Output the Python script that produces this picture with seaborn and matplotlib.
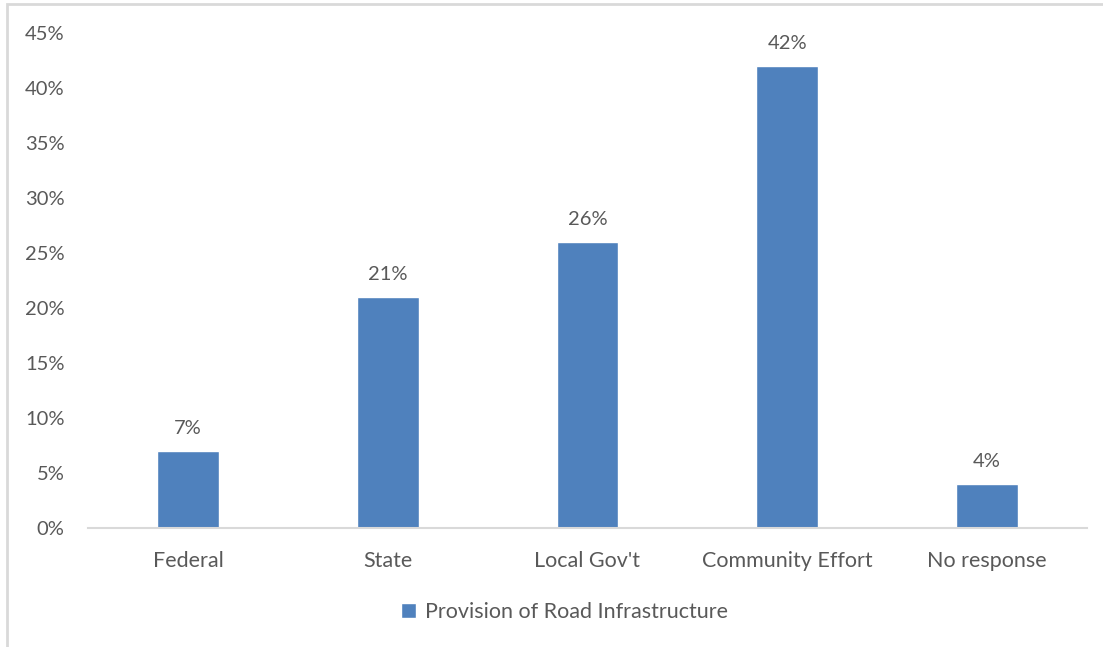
import matplotlib
matplotlib.use("Agg")
import matplotlib.pyplot as plt
import seaborn as sns
import pandas as pd
from matplotlib.patches import Rectangle
from matplotlib.ticker import FuncFormatter, MultipleLocator

categories = ["Federal", "State", "Local Gov't", "Community Effort", "No response"]
shares = [7, 21, 26, 42, 4]
series_name = "Provision of Road Infrastructure"

sns.set_theme(style="white")
plt.rcParams["font.family"] = ["Lato", "DejaVu Sans"]

TEXT = "#595959"
BAR = "#4F81BD"

df = pd.DataFrame({"category": categories, "share": shares})

fig = plt.figure(figsize=(11.03, 6.47), dpi=100)
ax = fig.add_axes([88 / 1103, 1 - 528 / 647, 999 / 1103, 495 / 647])

sns.barplot(data=df, x="category", y="share", color=BAR, width=0.31,
            saturation=1, label=series_name, ax=ax)

ax.set_ylim(0, 45)
ax.yaxis.set_major_locator(MultipleLocator(5))
ax.yaxis.set_major_formatter(FuncFormatter(lambda v, _: f"{v:.0f}%"))
ax.set_xlim(-0.5, len(categories) - 0.5)
ax.set_xlabel("")
ax.set_ylabel("")

for side in ["top", "right", "left"]:
    ax.spines[side].set_visible(False)
ax.spines["bottom"].set_color("#D9D9D9")
ax.spines["bottom"].set_linewidth(1.5)

ax.tick_params(axis="both", length=0, colors=TEXT)
ax.tick_params(axis="x", pad=16.5, labelsize=15.5)
ax.tick_params(axis="y", pad=17, labelsize=14.5)

for container in ax.containers:
    ax.bar_label(container, labels=[f"{v}%" for v in shares],
                 padding=10, fontsize=14.5, color=TEXT)

leg = fig.legend(handles=ax.patches[:1], labels=[series_name], loc="center",
                 bbox_to_anchor=(0.512, 1 - 612 / 647), frameon=False,
                 fontsize=15.5, handlelength=0.7, handleheight=0.7,
                 handletextpad=0.4)
for t in leg.get_texts():
    t.set_color(TEXT)
if ax.get_legend() is not None:
    ax.get_legend().remove()

# light frame around the chart area
fig.patches.append(Rectangle((7 / 1103, -0.05), 1.1, 643 / 647 + 0.05,
                             transform=fig.transFigure, fill=False,
                             edgecolor="#D9D9D9", linewidth=2))

fig.savefig("out.png", dpi=100)
